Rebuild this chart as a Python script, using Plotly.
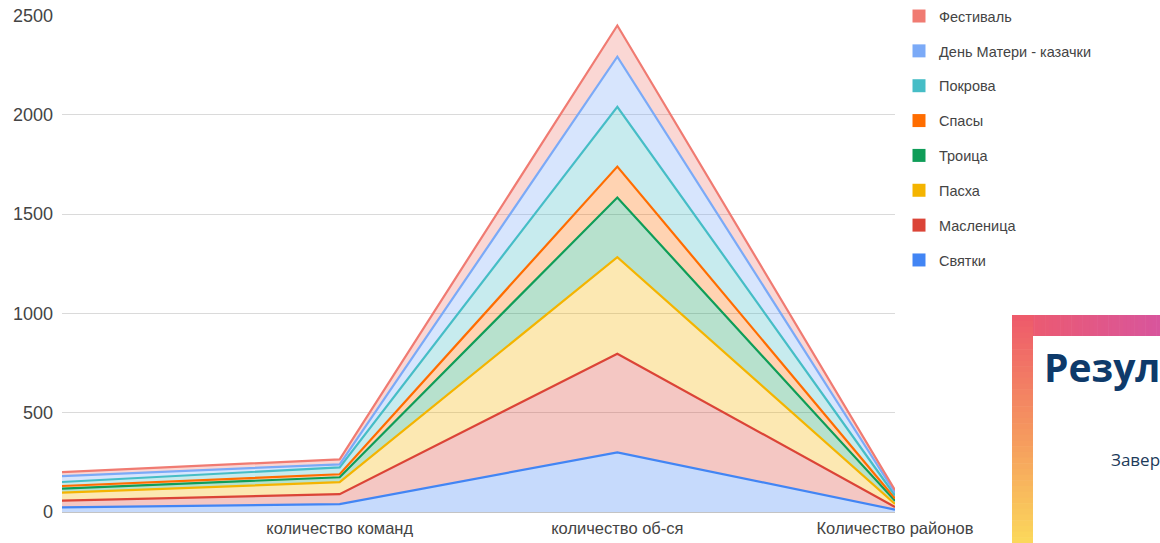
import plotly.graph_objects as go

# ---------------- data ----------------
categories = ["", "количество команд", "количество об-ся", "Количество районов"]

series_names = ["Святки", "Масленица", "Пасха", "Троица", "Спасы", "Покрова",
                "День Матери - казачки", "Фестиваль"]
svyatki = [23, 40, 300, 12]
maslenitsa = [34, 50, 497, 13]
paskha = [41, 60, 486, 16]
troitsa = [20, 25, 300, 15]
spasy = [13, 15, 156, 12]
pokrova = [20, 35, 301, 15]
den_materi = [30, 15, 252, 14]
festival = [20, 25, 157, 13]
series_values = [svyatki, maslenitsa, paskha, troitsa, spasy, pokrova, den_materi, festival]

colors = ["#4285f4", "#db4437", "#f4b400", "#0f9d58", "#ff6d00", "#46bdc6", "#7baaf7", "#f07b72"]

y_ticks = [0, 500, 1000, 1500, 2000, 2500]

# ---------------- layout geometry ----------------
W, H = 1160, 543
L, R, T, B = 62, 265, 15, 31
PW = W - L - R
PH = H - T - B


def px(x):
    return (x - L) / PW


def py(y):
    return (H - B - y) / PH


def rgba(hexc, a):
    h = hexc.lstrip("#")
    r, g, b = int(h[0:2], 16), int(h[2:4], 16), int(h[4:6], 16)
    return f"rgba({r},{g},{b},{a})"


def lerp_color(stops, t):
    for i in range(len(stops) - 1):
        p0, c0 = stops[i]
        p1, c1 = stops[i + 1]
        if p0 <= t <= p1:
            f = 0 if p1 == p0 else (t - p0) / (p1 - p0)
            a = [int(c0[k:k + 2], 16) for k in (1, 3, 5)]
            b = [int(c1[k:k + 2], 16) for k in (1, 3, 5)]
            c = [round(a[j] + (b[j] - a[j]) * f) for j in range(3)]
            return f"rgb({c[0]},{c[1]},{c[2]})"
    return stops[-1][1]


x_idx = list(range(len(categories)))

fig = go.Figure()

for name, vals, col in zip(series_names, series_values, colors):
    fig.add_trace(go.Scatter(
        x=x_idx, y=vals, name=name, mode="lines",
        stackgroup="one",
        line=dict(color=col, width=2.2),
        fillcolor=rgba(col, 0.3),
        showlegend=False,
        hoverinfo="skip",
    ))

# legend entries with solid squares (top-most series first)
for rank, (name, col) in enumerate(zip(series_names[::-1], colors[::-1])):
    fig.add_trace(go.Scatter(
        x=[None], y=[None], name=name, mode="markers",
        marker=dict(symbol="square", size=13, color=col),
        legendgroup=name, legendrank=rank + 1, showlegend=True,
    ))

shapes = []
# decorative slide frame (bottom-right), gradient border approximated by segments
box_l, box_t = 1012, 315
bw = 21
n = 40
top_stops = [(0.0, "#ee5b6b"), (1.0, "#d8559c")]
left_stops = [(0.0, "#ee5b6b"), (0.5, "#f5955f"), (1.0, "#fbd75b")]
for i in range(n):
    x0 = box_l + (W - box_l) * i / n
    x1 = box_l + (W - box_l) * (i + 1) / n + 0.6
    shapes.append(dict(type="rect", xref="paper", yref="paper",
                       x0=px(x0), x1=px(x1), y0=py(box_t + bw), y1=py(box_t),
                       fillcolor=lerp_color(top_stops, i / (n - 1)), line=dict(width=0),
                       layer="above"))
for i in range(n):
    y0 = box_t + (H - box_t) * i / n
    y1 = box_t + (H - box_t) * (i + 1) / n + 0.6
    shapes.append(dict(type="rect", xref="paper", yref="paper",
                       x0=px(box_l), x1=px(box_l + bw), y0=py(y1), y1=py(y0),
                       fillcolor=lerp_color(left_stops, i / (n - 1)), line=dict(width=0),
                       layer="above"))

annotations = [
    dict(text="<b>Резул</b>", xref="paper", yref="paper", x=px(1042), y=py(366),
         xanchor="left", yanchor="middle", showarrow=False,
         font=dict(family="Open Sans", size=39, color="#0e3a6a")),
    dict(text="Завер", xref="paper", yref="paper", x=px(1109), y=py(459),
         xanchor="left", yanchor="middle", showarrow=False,
         font=dict(family="Open Sans", size=17, color="#1d3b5a")),
]

fig.update_layout(
    width=W, height=H,
    margin=dict(l=L, r=R, t=T, b=B, pad=0, autoexpand=False),
    paper_bgcolor="white", plot_bgcolor="white",
    font=dict(family="Liberation Sans, Arial, sans-serif", size=16, color="#444444"),
    xaxis=dict(range=[0, len(categories) - 1], tickmode="array", tickvals=x_idx,
               ticktext=categories, showgrid=False, zeroline=False, showline=False,
               ticks="", ticklabelstandoff=4, automargin=False,
               tickfont=dict(size=16.5, color="#444444")),
    yaxis=dict(range=[0, 2502], tickmode="array", tickvals=y_ticks,
               showgrid=True, gridcolor="#dadada", gridwidth=1,
               zeroline=True, zerolinecolor="#c4c4c4", zerolinewidth=1,
               showline=False, ticks="", ticklabelstandoff=8, automargin=False,
               tickfont=dict(size=18, color="#444444")),
    legend=dict(x=px(899), y=1.030, xanchor="left", yanchor="top",
                font=dict(size=14.5, color="#444444"), tracegroupgap=13,
                bgcolor="rgba(0,0,0,0)", itemclick=False, maxheight=520),
    shapes=shapes,
    annotations=annotations,
    hovermode=False,
)

fig.write_html("out.html",
               config={"displayModeBar": False},
               post_script="document.body.style.margin='0';document.body.style.overflow='hidden';")
